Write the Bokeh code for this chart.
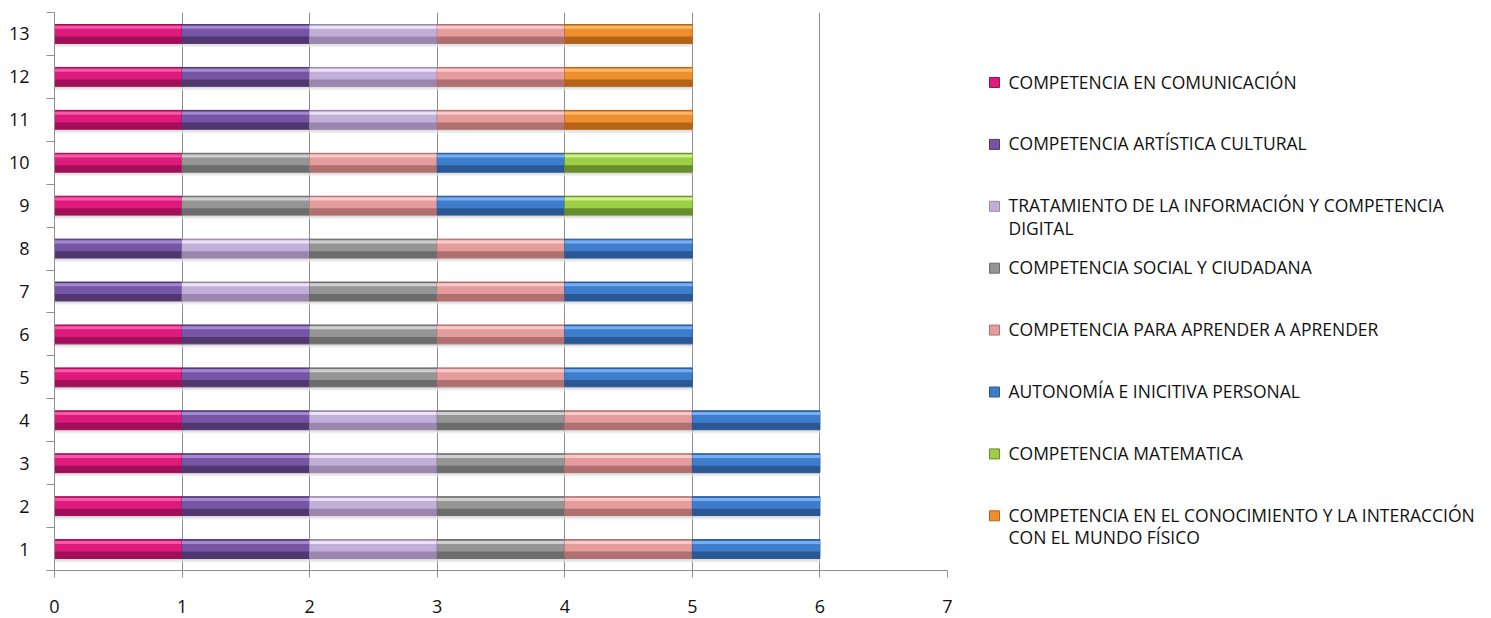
import numpy as np
from bokeh.plotting import figure
from bokeh.layouts import row
from bokeh.models import Range1d, FixedTicker, ColumnDataSource
from bokeh.transform import dodge
from bokeh.core.properties import value
from bokeh.embed import file_html
from bokeh.resources import INLINE

# ---------------- data ----------------
rows = list(range(1, 14))
row_labels = [str(r) for r in rows]
x_ticks = [0, 1, 2, 3, 4, 5, 6, 7]

series_names = [
    "COMPETENCIA EN COMUNICACIÓN",
    "COMPETENCIA ARTÍSTICA CULTURAL",
    "TRATAMIENTO DE LA INFORMACIÓN Y COMPETENCIA\nDIGITAL",
    "COMPETENCIA SOCIAL Y CIUDADANA",
    "COMPETENCIA PARA APRENDER A APRENDER",
    "AUTONOMÍA E INICITIVA PERSONAL",
    "COMPETENCIA MATEMATICA",
    "COMPETENCIA EN EL CONOCIMIENTO Y LA INTERACCIÓN\nCON EL MUNDO FÍSICO",
]
comunicacion = [1, 1, 1, 1, 1, 1, 0, 0, 1, 1, 1, 1, 1]
artistica    = [1, 1, 1, 1, 1, 1, 1, 1, 0, 0, 1, 1, 1]
tratamiento  = [1, 1, 1, 1, 0, 0, 1, 1, 0, 0, 1, 1, 1]
social       = [1, 1, 1, 1, 1, 1, 1, 1, 1, 1, 0, 0, 0]
aprender     = [1, 1, 1, 1, 1, 1, 1, 1, 1, 1, 1, 1, 1]
autonomia    = [1, 1, 1, 1, 1, 1, 1, 1, 1, 1, 0, 0, 0]
matematica   = [0, 0, 0, 0, 0, 0, 0, 0, 1, 1, 0, 0, 0]
fisico       = [0, 0, 0, 0, 0, 0, 0, 0, 0, 0, 1, 1, 1]
series_values = [comunicacion, artistica, tratamiento, social,
                 aprender, autonomia, matematica, fisico]

# ---------------- styles ----------------
col_mid   = ["#de1a7c", "#7655a6", "#c2afd8", "#959595", "#e49c9c", "#3d7dcc", "#9cce46", "#ef8e2e"]
col_light = ["#f45aa6", "#a389cf", "#ebe2f6", "#cfcfcf", "#f8caca", "#78adef", "#cff08c", "#f8b968"]
col_dark  = ["#a20e58", "#51376f", "#9a86ae", "#6c6c6c", "#b07070", "#2a5895", "#688d2b", "#b46417"]
font = "Open Sans"
grid_col = "#8f8f8f"
BAR_H = 0.44
TOP, BOTTOM = 12, 48

p = figure(width=960, height=618, x_range=Range1d(0, 7), y_range=Range1d(0.5, 13.5),
           output_backend="svg", toolbar_location=None,
           min_border_left=54, min_border_right=13, min_border_top=TOP, min_border_bottom=BOTTOM)
p.outline_line_color = None
p.background_fill_color = "white"
p.border_fill_color = "white"

# grid
p.ygrid.grid_line_color = None
p.xgrid.ticker = FixedTicker(ticks=x_ticks)
p.xgrid.grid_line_color = grid_col
p.xgrid.grid_line_width = 1

# x axis
p.xaxis.ticker = FixedTicker(ticks=x_ticks)
p.xaxis.axis_line_color = grid_col
p.xaxis.major_tick_line_color = grid_col
p.xaxis.major_tick_out = 7
p.xaxis.major_tick_in = 0
p.xaxis.minor_tick_line_color = None
p.xaxis.major_label_standoff = 22
p.xaxis.major_label_text_font = font
p.xaxis.major_label_text_font_size = "18px"
p.xaxis.major_label_text_color = "#111111"

# y axis
p.yaxis.ticker = FixedTicker(ticks=rows, minor_ticks=[r - 0.5 for r in rows] + [rows[-1] + 0.5])
p.yaxis.major_label_overrides = {r: lab for r, lab in zip(rows, row_labels)}
p.yaxis.axis_line_color = grid_col
p.yaxis.major_tick_line_color = None
p.yaxis.major_tick_out = 0
p.yaxis.minor_tick_line_color = grid_col
p.yaxis.minor_tick_out = 8
p.yaxis.minor_tick_in = 0
p.yaxis.major_label_standoff = 17
p.yaxis.major_label_text_font = font
p.yaxis.major_label_text_font_size = "18px"
p.yaxis.major_label_text_color = "#111111"

# shadow under each whole bar
totals = np.sum(np.array(series_values), axis=0)
sh = ColumnDataSource(dict(y=rows, left=[0] * len(rows), right=totals.tolist()))
p.hbar(y=dodge("y", -0.245, range=p.y_range), left="left", right="right", height=0.05,
       source=sh, fill_color="#cfcfcf", line_color=None, fill_alpha=0.7)
p.hbar(y=dodge("y", -0.285, range=p.y_range), left="left", right="right", height=0.04,
       source=sh, fill_color="#e6e6e6", line_color=None, fill_alpha=0.7)

# stacked segments with bevel look
cum = np.zeros(len(rows))
for k, vals in enumerate(series_values):
    v = np.array(vals, dtype=float)
    mask = v > 0
    ys = np.array(rows)[mask]
    left = cum[mask]
    right = (cum + v)[mask]
    cum = cum + v
    src = ColumnDataSource(dict(y=ys.tolist(), left=left.tolist(), right=right.tolist()))
    p.hbar(y="y", left="left", right="right", height=BAR_H, source=src,
           fill_color=col_dark[k], line_color=col_dark[k], line_width=1)
    p.hbar(y=dodge("y", 0.07, range=p.y_range), left="left", right="right", height=0.26,
           source=src, fill_color=col_mid[k], line_color=None)
    p.hbar(y=dodge("y", 0.155, range=p.y_range), left="left", right="right", height=0.07,
           source=src, fill_color=col_light[k], line_color=None)

# ---------------- legend (separate panel, pixel-like coordinates) ----------------
lg = figure(width=531, height=618, x_range=Range1d(0, 531), y_range=Range1d(618 - BOTTOM, TOP),
            output_backend="svg", toolbar_location=None,
            min_border_left=0, min_border_right=0, min_border_top=TOP, min_border_bottom=BOTTOM)
lg.axis.visible = False
lg.grid.grid_line_color = None
lg.outline_line_color = None

first_y = 82
step = 61.9
leg_y = [first_y + step * i for i in range(len(series_names))]
leg_src = ColumnDataSource(dict(
    x=[34] * len(series_names), tx=[48] * len(series_names),
    y=leg_y, ty=[yy - 13 for yy in leg_y],
    name=series_names, mid=col_mid, dark=col_dark))
lg.scatter(x="x", y="y", marker="square", size=10, source=leg_src,
           fill_color="mid", line_color="dark", line_width=1)
lg.text(x="tx", y="ty", text="name", source=leg_src,
        text_font=value(font), text_font_size="17.5px", text_color="#111111",
        text_baseline="top", text_align="left", text_line_height=0.93)

layout = row(p, lg)
open("out.html", "w").write(file_html(layout, INLINE))
